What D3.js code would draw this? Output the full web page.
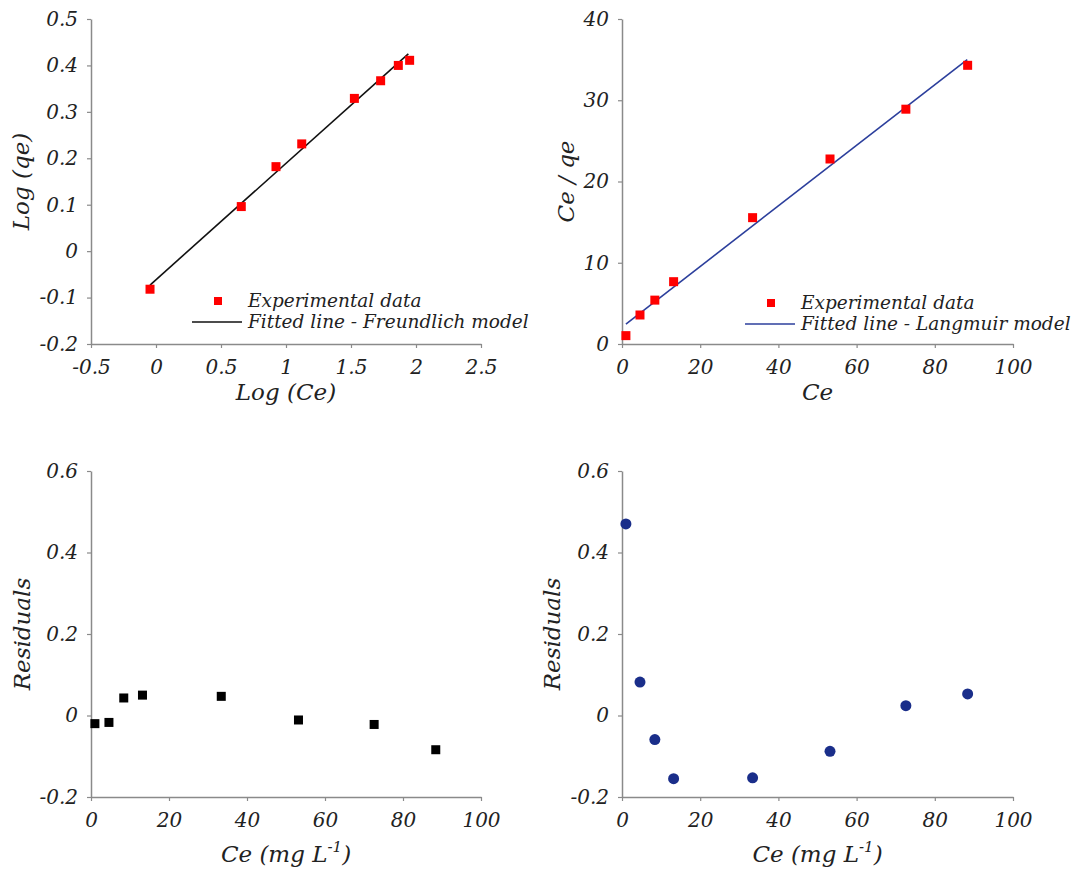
<!DOCTYPE html>
<html>
<head>
<meta charset="utf-8">
<script src="https://cdn.jsdelivr.net/npm/d3@7"></script>
<style>
  body { margin: 0; background: #fff; }
  text { font-family: "DejaVu Serif", serif; font-style: italic; fill: #222; }
  .axis-title { font-size: 23px; }
  .legend text { font-size: 18.5px; }
</style>
</head>
<body>
<div id="chart"></div>
<script>
// equilibrium concentrations
var ce = [1.0, 4.6, 8.4, 13.2, 33.4, 53.2, 72.6, 88.4];

// Freundlich linear form
var logCe = [-0.046, 0.656, 0.923, 1.121, 1.526, 1.728, 1.864, 1.951];
var logQe = [-0.082, 0.096, 0.182, 0.231, 0.329, 0.367, 0.400, 0.411];
var freundFitX = [-0.046, 1.941];
var freundFitY = [-0.073, 0.425];

// Langmuir linear form
var ceQe = [1.03, 3.57, 5.4, 7.67, 15.55, 22.77, 28.9, 34.3];
var langFitX = [1.0, 88.3];
var langFitY = [2.46, 35.0];

// residuals
var freundRes = [-0.020, -0.017, 0.043, 0.050, 0.047, -0.011, -0.022, -0.084];
var langRes = [0.470, 0.082, -0.059, -0.155, -0.153, -0.088, 0.024, 0.053];

// tick labels
var logCeTicks = [-0.5, 0, 0.5, 1, 1.5, 2, 2.5];
var logQeTicks = [-0.2, -0.1, 0, 0.1, 0.2, 0.3, 0.4, 0.5];
var ceTicks = [0, 20, 40, 60, 80, 100];
var ceQeTicks = [0, 10, 20, 30, 40];
var resTicks = [-0.2, 0, 0.2, 0.4, 0.6];

var svg = d3.select("#chart")
  .append("svg")
  .attr("width", 1079)
  .attr("height", 872);

var fmt = d => String(+d.toFixed(2));

// build one panel: frame, axes and titles, returns its scales
function panel(box, xDom, yDom, xTicks, yTicks, xTitle, yTitle, titleGap, yTitleX) {
  var x = d3.scaleLinear().domain(xDom).range([box.left, box.right]);
  var y = d3.scaleLinear().domain(yDom).range([box.bottom, box.top]);

  var xAxis = svg.append("g")
    .attr("transform", `translate(0, ${box.bottom})`)
    .call(d3.axisBottom(x).tickValues(xTicks).tickFormat(fmt).tickSize(4).tickSizeOuter(0).tickPadding(8));
  var yAxis = svg.append("g")
    .attr("transform", `translate(${box.left}, 0)`)
    .call(d3.axisLeft(y).tickValues(yTicks).tickFormat(fmt).tickSize(4).tickSizeOuter(0).tickPadding(9));

  [xAxis, yAxis].forEach(function(a) {
    a.select(".domain").attr("stroke", "#8a8a8a").attr("stroke-width", 1.5);
    a.selectAll(".tick line").attr("stroke", "#8a8a8a").attr("stroke-width", 1.2);
    a.selectAll(".tick text")
      .attr("fill", "#2a2a2a")
      .style("font-family", "DejaVu Serif")
      .style("font-style", "italic")
      .style("font-size", "20px");
  });
  xAxis.selectAll(".tick text").attr("y", 0).attr("dy", 0).attr("transform", "translate(0, 30)");

  var xt = svg.append("text")
    .attr("class", "axis-title")
    .attr("x", (box.left + box.right) / 2)
    .attr("y", box.bottom + titleGap)
    .attr("text-anchor", "middle");
  xTitle(xt);

  svg.append("text")
    .attr("class", "axis-title")
    .attr("transform", `translate(${yTitleX}, ${(box.top + box.bottom) / 2}) rotate(-90)`)
    .attr("text-anchor", "middle")
    .text(yTitle);

  return { x: x, y: y };
}

function legend(px, py, lineColor, label) {
  var g = svg.append("g").attr("class", "legend");
  g.append("rect")
    .attr("x", px - 4).attr("y", py - 4)
    .attr("width", 8).attr("height", 8)
    .attr("fill", "#ff0000");
  g.append("text").attr("x", px + 30).attr("y", py + 6).text("Experimental data");
  g.append("line")
    .attr("x1", px - 26).attr("x2", px + 24)
    .attr("y1", py + 21).attr("y2", py + 21)
    .attr("stroke", lineColor).attr("stroke-width", 1.6);
  g.append("text").attr("x", px + 30).attr("y", py + 27).text(label);
}

function squares(sc, xs, ys, color, size) {
  svg.append("g").selectAll("rect")
    .data(xs)
    .enter()
    .append("rect")
    .attr("x", (d, i) => sc.x(d) - size / 2)
    .attr("y", (d, i) => sc.y(ys[i]) - size / 2)
    .attr("width", size)
    .attr("height", size)
    .attr("fill", color);
}

function fitLine(sc, xs, ys, color) {
  svg.append("path")
    .datum(xs.map((d, i) => [d, ys[i]]))
    .attr("fill", "none")
    .attr("stroke", color)
    .attr("stroke-width", 1.6)
    .attr("d", d3.line().x(d => sc.x(d[0])).y(d => sc.y(d[1])));
}

function ceTitle(t) {
  t.append("tspan").text("Ce (mg L");
  t.append("tspan").attr("dy", -10).style("font-size", "15px").text("-1");
  t.append("tspan").attr("dy", 10).text(")");
}

// top left: Freundlich
var tl = panel({ left: 91, right: 481, top: 19, bottom: 344 },
  [-0.5, 2.5], [-0.2, 0.5], logCeTicks, logQeTicks,
  t => t.text("Log (Ce)"), "Log (qe)", 56, 29);
fitLine(tl, freundFitX, freundFitY, "#111");
squares(tl, logCe, logQe, "#ff0000", 9);
legend(218, 301, "#111", "Fitted line - Freundlich model");

// top right: Langmuir
var tr = panel({ left: 622, right: 1013, top: 19, bottom: 344 },
  [0, 100], [0, 40], ceTicks, ceQeTicks,
  t => t.text("Ce"), "Ce / qe", 56, 574);
fitLine(tr, langFitX, langFitY, "#2c3f9c");
squares(tr, ce, ceQe, "#ff0000", 9);
legend(771, 303, "#2c3f9c", "Fitted line - Langmuir model");

// bottom left: Freundlich residuals
var bl = panel({ left: 91, right: 481, top: 471, bottom: 797 },
  [0, 100], [-0.2, 0.6], ceTicks, resTicks, ceTitle, "Residuals", 65, 30);
squares(bl, ce, freundRes, "#000", 9);

// bottom right: Langmuir residuals
var br = panel({ left: 622, right: 1013, top: 471, bottom: 797 },
  [0, 100], [-0.2, 0.6], ceTicks, resTicks, ceTitle, "Residuals", 65, 560);

svg.append("g").selectAll("circle")
  .data(ce)
  .enter()
  .append("circle")
  .attr("cx", d => br.x(d))
  .attr("cy", (d, i) => br.y(langRes[i]))
  .attr("r", 5.5)
  .attr("fill", "#1a2e8a");
</script>
</body>
</html>
